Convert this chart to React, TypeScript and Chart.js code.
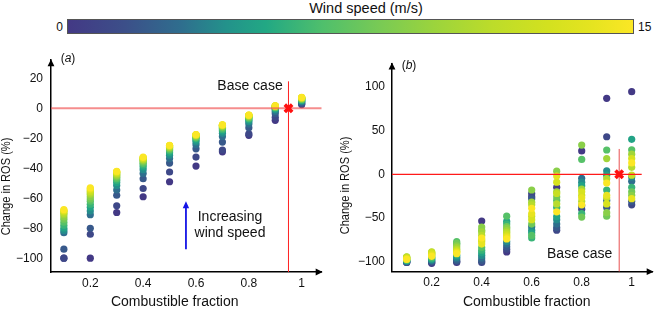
import React, { useEffect, useRef } from "react";
import { Chart, registerables } from "chart.js";

Chart.register(...registerables);

const FONT = "'Liberation Sans', Arial, Helvetica, sans-serif";

// ---------- data ----------
const fractions = [0.1, 0.2, 0.3, 0.4, 0.5, 0.6, 0.7, 0.8, 0.9, 1.0];
const windSpeeds = [0, 1, 2, 3, 4, 5, 6, 7, 8, 9, 10, 11, 12, 13, 14, 15];
const windMin = 0;
const windMax = 15;

// panel (a): change in ROS (%) per fraction (rows) and wind speed (columns)
const rosA: number[][] = [
  [-100, -100, -94, -83, -81.5, -80, -78, -76, -74, -72.5, -71, -70, -69, -68.5, -68, -67.5],
  [-100, -84, -80, -71, -68.5, -66, -64, -62, -60.5, -59, -57.5, -56.5, -55.5, -54.5, -53.7, -53],
  [-69.5, -65, -58, -54.5, -51.5, -49.5, -48, -47, -46, -45.2, -44.5, -43.8, -43.2, -42.7, -42.3, -42],
  [-59, -53.5, -47, -43.5, -41, -39.2, -37.8, -36.7, -35.8, -35, -34.4, -33.9, -33.5, -33.1, -32.8, -32.5],
  [-49, -42.5, -36.5, -33.5, -31.3, -29.7, -28.5, -27.6, -26.9, -26.3, -25.9, -25.5, -25.2, -25, -24.8, -24.7],
  [-38.5, -32.5, -27, -24.3, -22.4, -21.1, -20.2, -19.5, -19, -18.6, -18.3, -18, -17.8, -17.7, -17.6, -17.5],
  [-29, -27.8, -22.5, -18.8, -16.7, -15.2, -14.1, -13.3, -12.7, -12.2, -11.8, -11.5, -11.3, -11.2, -11.1, -11],
  [-18, -17, -13, -10.5, -8.9, -7.8, -7, -6.4, -5.9, -5.5, -5.2, -5, -4.8, -4.7, -4.6, -4.5],
  [-8, -6, -3.6, -2.1, -1, -0.3, 0.2, 0.6, 0.9, 1.1, 1.3, 1.4, 1.5, 1.6, 1.6, 1.7],
  [2.5, 3, 3.6, 4.2, 4.7, 5.2, 5.6, 5.9, 6.2, 6.5, 6.7, 6.9, 7, 7.1, 7.2, 7.3],
];

// panel (b)
const rosB: number[][] = [
  [-101, -101, -100.5, -100, -99.5, -99, -98.5, -98, -97, -96, -95, -94.5, -95.5, -96.5, -97, -97.5],
  [-102, -101, -100, -99, -98, -97, -96, -95, -93.5, -92, -90.5, -89, -89.5, -91, -92.5, -94],
  [-101, -100, -99, -97, -95, -93, -80, -77, -79, -82, -84, -86, -87.5, -88.5, -89.5, -91],
  [-53.5, -101, -99, -96, -93, -90, -87, -84, -64, -60.5, -66, -70, -75, -77, -80, -73],
  [-89, -86, -83, -80, -77, -54, -57, -48, -60, -62, -64.5, -66.5, -68.5, -70.5, -72, -74],
  [-25.6, -22, -28, -60, -64, -67, -73, -70, -57, -18, -32, -35, -48, -52, -45, -39],
  [-15, -64, -61, -57, -52, -48.5, -38, -30, -26, 3.5, -20, -34, -22, -9, -2, -43],
  [26.7, -40, -36, -4.6, -9, -13, -45, 17, -49, 33.5, -17, -31, -24, -20, -27, -35],
  [87, 43, -38, -30, 3.8, -1, -18, 27.8, -48, -44, 18, -5, -27, -34, -24, -10],
  [94.6, -35, -31, -8, -3, 40, -15, 28, -20, -24, 23, 8, -1, 18, -28, 13],
];

const xTicks = [0.2, 0.4, 0.6, 0.8, 1];
const yTicksA = [-100, -80, -60, -40, -20, 0, 20];
const yTicksB = [-100, -50, 0, 50, 100];
const colorbarTicks = [windMin, windMax];

const baseCase = { x: 0.95, y: 0 };
const baseLineTopA = 18;
const baseLineTopB = 29;
const windArrow = { x: 0.562, from: -94, to: -62 };

// ---------- colour map (sampled from the colour bar) ----------
const cmapStops: [number, string][] = [
  [0, "#433985"],
  [0.1, "#3c4f89"],
  [0.2, "#2f6e8e"],
  [0.28, "#23928b"],
  [0.35, "#22a884"],
  [0.45, "#4fbf6c"],
  [0.55, "#78ca55"],
  [0.65, "#9cd43c"],
  [0.75, "#bcdc2a"],
  [0.85, "#d3e11f"],
  [0.93, "#e6e420"],
  [1, "#fbe725"],
];

function hexToRgb(h: string) {
  const n = parseInt(h.slice(1), 16);
  return [(n >> 16) & 255, (n >> 8) & 255, n & 255];
}
function cmap(t: number) {
  t = Math.max(0, Math.min(1, t));
  for (let i = 1; i < cmapStops.length; i++) {
    const [t1, c1] = cmapStops[i];
    const [t0, c0] = cmapStops[i - 1];
    if (t <= t1) {
      const f = (t - t0) / (t1 - t0);
      const a = hexToRgb(c0);
      const b = hexToRgb(c1);
      const r = a.map((v, k) => Math.round(v + (b[k] - v) * f));
      return `rgb(${r[0]},${r[1]},${r[2]})`;
    }
  }
  return cmapStops[cmapStops.length - 1][1];
}

// ---------- decoration plugin ----------
type Decor = {
  label: string;
  labelPos: [number, number];
  yTitle: string;
  yTitlePos: [number, number];
  xTitle: string;
  xTitlePos: [number, number];
  baseText: string;
  basePos: [number, number];
  note?: { lines: string[]; x: number; ys: number[] };
  arrow?: { x: number; from: number; to: number };
};

const TEXT = "#111";

function decorPlugin(d: Decor) {
  return {
    id: "decor",
    afterDraw(chart: any) {
      const { ctx, chartArea: ca } = chart;
      ctx.save();
      // axis arrowheads
      ctx.fillStyle = "#000";
      ctx.beginPath();
      ctx.moveTo(ca.left, ca.top - 1);
      ctx.lineTo(ca.left - 3.4, ca.top + 6);
      ctx.lineTo(ca.left + 3.4, ca.top + 6);
      ctx.closePath();
      ctx.fill();
      ctx.beginPath();
      ctx.moveTo(ca.right + 1, ca.bottom);
      ctx.lineTo(ca.right - 6, ca.bottom - 3.4);
      ctx.lineTo(ca.right - 6, ca.bottom + 3.4);
      ctx.closePath();
      ctx.fill();

      ctx.fillStyle = TEXT;
      ctx.textBaseline = "middle";
      // panel label "(a)" with italic letter
      ctx.textAlign = "left";
      let x = d.labelPos[0];
      const ly = d.labelPos[1];
      ctx.font = `12px ${FONT}`;
      ctx.fillText("(", x, ly);
      x += ctx.measureText("(").width;
      ctx.font = `italic 12px ${FONT}`;
      ctx.fillText(d.label, x, ly);
      x += ctx.measureText(d.label).width;
      ctx.font = `12px ${FONT}`;
      ctx.fillText(")", x, ly);

      // axis titles
      ctx.textAlign = "center";
      ctx.font = `14px ${FONT}`;
      ctx.fillText(d.xTitle, d.xTitlePos[0], d.xTitlePos[1]);
      ctx.save();
      ctx.translate(d.yTitlePos[0], d.yTitlePos[1]);
      ctx.rotate(-Math.PI / 2);
      ctx.scale(0.85, 1);
      ctx.font = `13px ${FONT}`;
      ctx.fillText(d.yTitle, 0, 0);
      ctx.restore();

      // base case label
      ctx.font = `14px ${FONT}`;
      ctx.fillText(d.baseText, d.basePos[0], d.basePos[1]);

      if (d.note) {
        d.note.lines.forEach((t, i) => ctx.fillText(t, d.note!.x, d.note!.ys[i]));
      }
      if (d.arrow) {
        const xs = chart.scales.x;
        const ys = chart.scales.y;
        const ax = xs.getPixelForValue(d.arrow.x);
        const y0 = ys.getPixelForValue(d.arrow.from);
        const y1 = ys.getPixelForValue(d.arrow.to);
        ctx.strokeStyle = "#1414e6";
        ctx.fillStyle = "#1414e6";
        ctx.lineWidth = 1.8;
        ctx.beginPath();
        ctx.moveTo(ax, y0);
        ctx.lineTo(ax, y1 + 5);
        ctx.stroke();
        ctx.beginPath();
        ctx.moveTo(ax, y1);
        ctx.lineTo(ax - 3.2, y1 + 7);
        ctx.lineTo(ax + 3.2, y1 + 7);
        ctx.closePath();
        ctx.fill();
      }
      ctx.restore();
    },
  };
}

// ---------- chart config ----------
function fmt(v: number) {
  return v < 0 ? "\u2212" + Math.abs(v) : String(v);
}

function buildConfig(
  rows: number[][],
  yTicks: number[],
  xr: [number, number],
  yr: [number, number],
  pad: { top: number; right: number },
  yAxisWidth: number,
  xAxisHeight: number,
  yPad: number,
  hLine: { x0: number; x1: number; color: string; width: number },
  vLine: { top: number; color: string; width: number },
  decor: Decor
) {
  const pts: { x: number; y: number }[] = [];
  const cols: string[] = [];
  fractions.forEach((f, i) =>
    rows[i].forEach((v, j) => {
      pts.push({ x: f, y: v });
      cols.push(cmap((windSpeeds[j] - windMin) / (windMax - windMin)));
    })
  );
  return {
    type: "scatter" as const,
    data: {
      datasets: [
        {
          data: [{ x: baseCase.x, y: baseCase.y }],
          pointStyle: "crossRot",
          pointRadius: 5.2,
          pointHoverRadius: 5.2,
          borderColor: "#ff1010",
          backgroundColor: "#ff1010",
          borderWidth: 3.6,
          order: 0,
        },
        {
          data: [
            { x: hLine.x0, y: baseCase.y },
            { x: hLine.x1, y: baseCase.y },
          ],
          showLine: true,
          pointRadius: 0,
          borderColor: hLine.color,
          borderWidth: hLine.width,
          order: 1,
        },
        {
          data: [
            { x: baseCase.x, y: yr[0] },
            { x: baseCase.x, y: vLine.top },
          ],
          showLine: true,
          pointRadius: 0,
          borderColor: vLine.color,
          borderWidth: vLine.width,
          order: 1,
        },
        {
          data: pts,
          backgroundColor: cols,
          borderWidth: 0,
          pointRadius: 3.6,
          pointHoverRadius: 3.6,
          order: 2,
        },
      ],
    },
    options: {
      animation: false,
      responsive: false,
      maintainAspectRatio: false,
      events: [],
      layout: { autoPadding: false, padding: { left: 0, top: pad.top, right: pad.right, bottom: 0 } },
      plugins: { legend: { display: false }, tooltip: { enabled: false } },
      scales: {
        x: {
          type: "linear",
          min: xr[0],
          max: xr[1],
          grid: { display: false, drawTicks: false },
          border: { display: true, color: "#000", width: 1.5 },
          ticks: {
            color: TEXT,
            font: { family: FONT, size: 12 },
            padding: 4,
            autoSkip: false,
            maxRotation: 0,
            callback: (v: any) => fmt(Number(v)),
          },
          afterBuildTicks: (s: any) => {
            s.ticks = xTicks.map((v) => ({ value: v }));
          },
          afterFit: (s: any) => {
            s.height = xAxisHeight;
          },
        },
        y: {
          type: "linear",
          min: yr[0],
          max: yr[1],
          grid: { display: false, drawTicks: false },
          border: { display: true, color: "#000", width: 1.5 },
          ticks: {
            color: TEXT,
            font: { family: FONT, size: 12 },
            padding: yPad,
            autoSkip: false,
            callback: (v: any) => fmt(Number(v)),
          },
          afterBuildTicks: (s: any) => {
            s.ticks = yTicks.map((v) => ({ value: v }));
          },
          afterFit: (s: any) => {
            s.width = yAxisWidth;
          },
        },
      },
    },
    plugins: [decorPlugin(decor)],
  };
}

export default function App() {
  const refA = useRef<HTMLCanvasElement>(null);
  const refB = useRef<HTMLCanvasElement>(null);

  useEffect(() => {
    const cfgA = buildConfig(
      rosA,
      yTicksA,
      [0.0513, 1.0757],
      [-109.2, 32.1],
      { top: 8, right: 8.3 },
      51,
      37,
      8,
      { x0: 0.0513, x1: 1.0757, color: "rgba(240,80,80,0.65)", width: 2 },
      { top: baseLineTopA, color: "#ff2020", width: 1 },
      {
        label: "a",
        labelPos: [60.7, 13.3],
        yTitle: "Change in ROS (%)",
        yTitlePos: [6.8, 141.5],
        xTitle: "Combustible fraction",
        xTitlePos: [174.7, 257.5],
        baseText: "Base case",
        basePos: [250, 40.7],
        note: { lines: ["Increasing", "wind speed"], x: 230, ys: [171.7, 188] },
        arrow: windArrow,
      }
    );
    const cfgB = buildConfig(
      rosB,
      yTicksB,
      [0.0412, 1.084],
      [-111.6, 126.9],
      { top: 18.5, right: 2.3 },
      57,
      37.3,
      7,
      { x0: 0.0412, x1: 1.04, color: "#ff1a1a", width: 1.2 },
      { top: baseLineTopB, color: "#e85050", width: 1 },
      {
        label: "b",
        labelPos: [66.7, 20.7],
        yTitle: "Change in ROS (%)",
        yTitlePos: [10.8, 140.5],
        xTitle: "Combustible fraction",
        xTitlePos: [191.7, 257.5],
        baseText: "Base case",
        basePos: [244.7, 209],
      }
    );
    const a = new Chart(refA.current as HTMLCanvasElement, cfgA as any);
    const b = new Chart(refB.current as HTMLCanvasElement, cfgB as any);
    return () => {
      a.destroy();
      b.destroy();
    };
  }, []);

  const gradient = `linear-gradient(to right, ${cmapStops
    .map(([t, c]) => `${c} ${(t * 100).toFixed(1)}%`)
    .join(", ")})`;

  return (
    <div
      style={{
        position: "absolute",
        left: 0,
        top: 0,
        width: 655,
        height: 309,
        background: "#fff",
        overflow: "hidden",
        fontFamily: FONT,
        color: TEXT,
      }}
    >
      <div
        style={{
          position: "absolute",
          left: 266,
          width: 200,
          top: 1,
          textAlign: "center",
          fontSize: 14.5,
          lineHeight: 1,
          whiteSpace: "nowrap",
        }}
      >
        Wind speed (m/s)
      </div>
      <div
        style={{
          position: "absolute",
          left: 66.7,
          top: 19.3,
          width: 567,
          height: 14.7,
          boxSizing: "border-box",
          border: "1px solid #555",
          background: gradient,
        }}
      />
      <span
        style={{
          position: "absolute",
          right: 655 - 63,
          top: 21,
          fontSize: 12,
          lineHeight: 1,
        }}
      >
        {colorbarTicks[0]}
      </span>
      <span
        style={{
          position: "absolute",
          left: 638,
          top: 21,
          fontSize: 12,
          lineHeight: 1,
        }}
      >
        {colorbarTicks[1]}
      </span>
      <canvas
        ref={refA}
        width={330}
        height={264}
        style={{ position: "absolute", left: 0, top: 45 }}
      />
      <canvas
        ref={refB}
        width={320}
        height={264}
        style={{ position: "absolute", left: 335, top: 45 }}
      />
    </div>
  );
}
